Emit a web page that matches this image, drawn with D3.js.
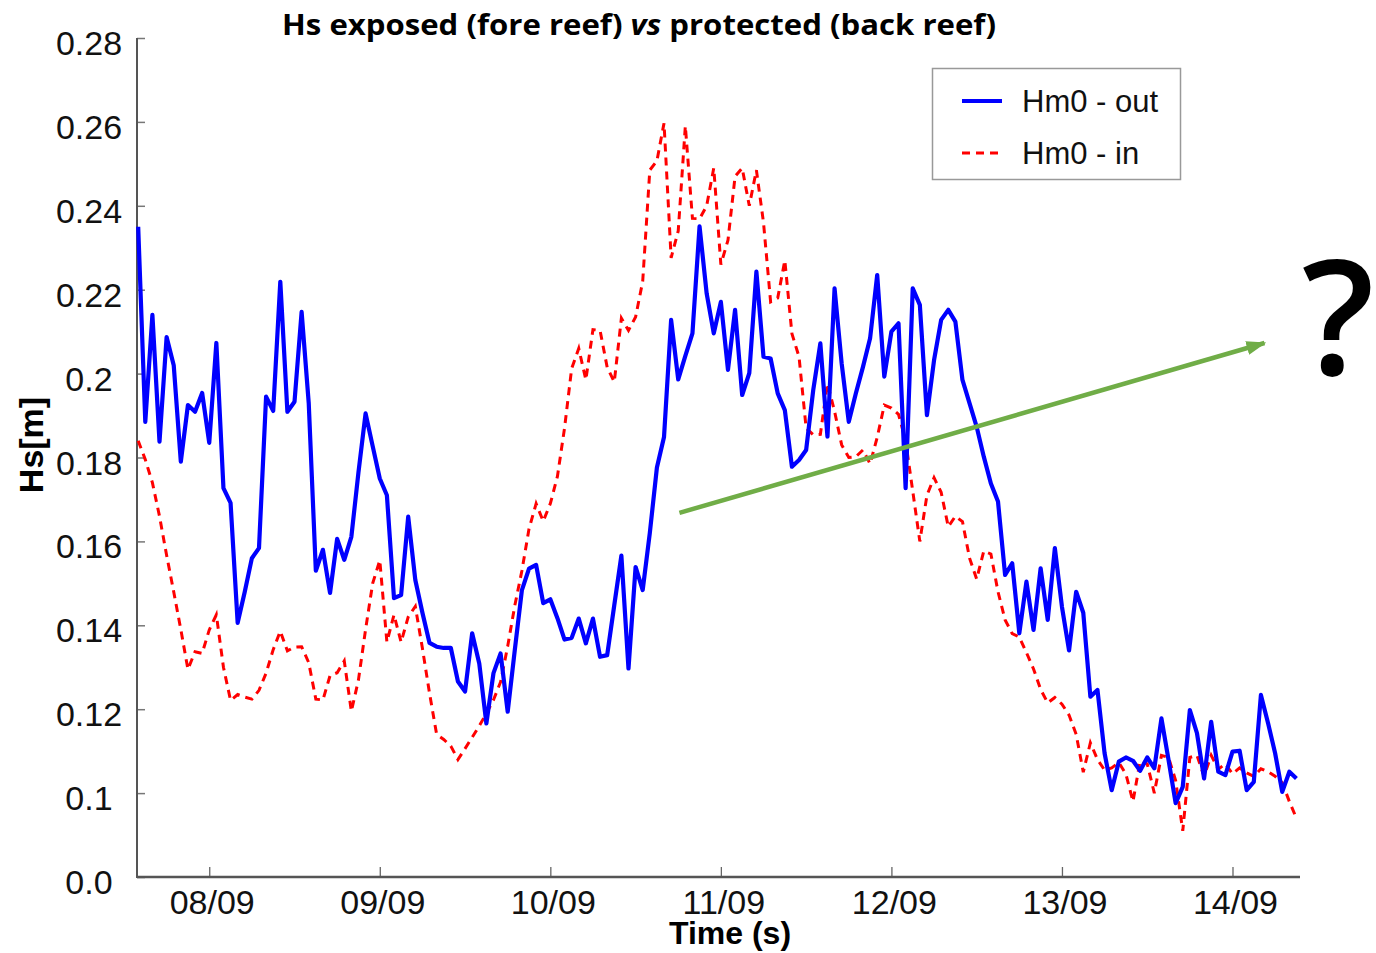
<!DOCTYPE html>
<html>
<head>
<meta charset="utf-8">
<script src="https://cdn.jsdelivr.net/npm/d3@7"></script>
<style>
  html, body { margin: 0; padding: 0; background: #fff; }
  svg { display: block; }
</style>
</head>
<body>
<svg id="chart" width="1376" height="953"></svg>
<script>
// Hourly significant wave height, starting 07/09 14:00
const startTime = Date.UTC(2014, 8, 7, 14);
const stepHours = 1;

// Hm0 outside the reef (fore reef, exposed)
const hm0Out = [
  0.235, 0.1885, 0.214, 0.1838, 0.2087, 0.202, 0.179, 0.1925, 0.1909, 0.1954,
  0.1835, 0.2073, 0.1727, 0.1692, 0.1406, 0.148, 0.156, 0.1584, 0.1945, 0.1911,
  0.2219, 0.1909, 0.1933, 0.2147, 0.193, 0.153, 0.158, 0.1477, 0.1606, 0.1556,
  0.1611, 0.1765, 0.1905, 0.1827, 0.175, 0.171, 0.1465, 0.1472, 0.1659, 0.1508,
  0.143, 0.1358, 0.1349, 0.1346, 0.1346, 0.1266, 0.1242, 0.1381, 0.1309, 0.1166,
  0.1286, 0.1333, 0.1194, 0.1341, 0.1484, 0.1535, 0.1544, 0.1453, 0.1462, 0.1417,
  0.1366, 0.137, 0.1416, 0.1357, 0.1416, 0.1325, 0.1329, 0.1448, 0.1566, 0.1297,
  0.1539, 0.1484, 0.162, 0.1776, 0.1849, 0.2128, 0.1986, 0.2042, 0.2096, 0.2351,
  0.2191, 0.2096, 0.2171, 0.2009, 0.2152, 0.1949, 0.2001, 0.2243, 0.204, 0.2036,
  0.1953, 0.1913, 0.1778, 0.1794, 0.1818, 0.1961, 0.2072, 0.185, 0.2203, 0.2024,
  0.1885, 0.1953, 0.2016, 0.2084, 0.2235, 0.1993, 0.21, 0.212, 0.1727, 0.2203,
  0.2164, 0.1901, 0.2032, 0.2128, 0.2152, 0.2124, 0.1985, 0.1929, 0.1873, 0.1802,
  0.1738, 0.1695, 0.152, 0.1548, 0.1381, 0.1504, 0.1389, 0.1536, 0.1413, 0.1584,
  0.1444, 0.134, 0.148, 0.143, 0.123, 0.1246, 0.1095, 0.1007, 0.1075, 0.1085,
  0.1077, 0.1053, 0.1085, 0.1059, 0.1178, 0.1079, 0.0976, 0.1015, 0.1198, 0.1143,
  0.1035, 0.117, 0.1051, 0.1043, 0.1099, 0.1101, 0.1007, 0.1027, 0.1234, 0.1167,
  0.1095, 0.1003, 0.1051, 0.1035
];

// Hm0 inside the reef (back reef, protected)
const hm0In = [
  0.184, 0.1795, 0.174, 0.166, 0.1567, 0.148, 0.139, 0.1295, 0.1337, 0.1333,
  0.1389, 0.1425, 0.130, 0.1221, 0.1235, 0.1229, 0.1224, 0.1245, 0.1286, 0.1342,
  0.1386, 0.1339, 0.1348, 0.1349, 0.1311, 0.1224, 0.1222, 0.128, 0.1287, 0.1315,
  0.1195, 0.127, 0.139, 0.150, 0.1555, 0.136, 0.1425, 0.136, 0.142, 0.1445,
  0.1345, 0.1238, 0.114, 0.1128, 0.1112, 0.108, 0.1106, 0.1133, 0.116, 0.119,
  0.1222, 0.1265, 0.135, 0.1447, 0.153, 0.163, 0.169, 0.1648, 0.169, 0.1755,
  0.187, 0.2012, 0.206, 0.1985, 0.2105, 0.2103, 0.2015, 0.198, 0.2132, 0.2103,
  0.2135, 0.222, 0.2485, 0.2507, 0.2597, 0.2276, 0.234, 0.259, 0.237, 0.2369,
  0.240, 0.249, 0.226, 0.2318, 0.247, 0.249, 0.240, 0.2485, 0.236, 0.2171,
  0.218, 0.227, 0.2095, 0.204, 0.187, 0.1854, 0.1855, 0.1977, 0.191, 0.183,
  0.180, 0.1802, 0.1818, 0.1785, 0.1848, 0.1925, 0.1918, 0.1903, 0.184, 0.172,
  0.160, 0.171, 0.1752, 0.1717, 0.1635, 0.166, 0.1647, 0.156, 0.151, 0.1577,
  0.157, 0.148, 0.1413, 0.138, 0.1372, 0.1335, 0.1296, 0.1247, 0.1215, 0.1228,
  0.1212, 0.1186, 0.114, 0.105, 0.112, 0.108, 0.1055, 0.106, 0.1073, 0.1045,
  0.098, 0.1077, 0.107, 0.100, 0.109, 0.1085, 0.103, 0.091, 0.1085, 0.109,
  0.104, 0.109, 0.1057, 0.107, 0.1046, 0.106, 0.1048, 0.104, 0.1058, 0.1051,
  0.104, 0.1025, 0.098, 0.094
];

// Axis ticks: the lowest gridline carries the label "0.0"
const yTickValues = [0.08, 0.10, 0.12, 0.14, 0.16, 0.18, 0.20, 0.22, 0.24, 0.26, 0.28];
const yTickLabels = ["0.0", "0.1", "0.12", "0.14", "0.16", "0.18", "0.2", "0.22", "0.24", "0.26", "0.28"];
const xTickDays = [8, 9, 10, 11, 12, 13, 14];

// Trend annotation (time, Hs)
const trendStart = [Date.UTC(2014, 8, 10, 18, 10), 0.1668];
const trendEnd = [Date.UTC(2014, 8, 14, 4, 30), 0.2073];

const seriesNames = ["Hm0 - out", "Hm0 - in"];
const titleParts = [
  { text: "Hs exposed (fore reef) ", italic: false },
  { text: "vs", italic: true },
  { text: " protected (back reef)", italic: false }
];

const svg = d3.select("#chart");
const plot = { left: 137, right: 1300, top: 38, bottom: 877 };

const x = d3.scaleUtc()
  .domain([Date.UTC(2014, 8, 7, 13, 50), Date.UTC(2014, 8, 14, 9, 30)])
  .range([plot.left, plot.right]);
const y = d3.scaleLinear()
  .domain([0.08, 0.28])
  .range([plot.bottom, plot.top]);

const timeAt = i => new Date(startTime + i * stepHours * 3600 * 1000);
const outData = hm0Out.map((v, i) => ({ t: timeAt(i), v }));
const inData = hm0In.map((v, i) => ({ t: timeAt(i), v }));

const axisFont = "'Liberation Sans', Arial, sans-serif";

// Y axis: inward ticks, centred labels
const yAxis = d3.axisRight(y)
  .tickValues(yTickValues)
  .tickSize(8)
  .tickFormat("");
const gy = svg.append("g")
  .attr("transform", `translate(${plot.left},0)`)
  .call(yAxis);
gy.select(".domain").remove();
gy.selectAll(".tick line").attr("stroke", "#777").attr("stroke-width", 1.5);

svg.append("g").selectAll("text")
  .data(yTickValues)
  .join("text")
  .attr("x", 89)
  .attr("y", d => y(d) + 5)
  .attr("text-anchor", "middle")
  .attr("dominant-baseline", "central")
  .attr("font-family", axisFont)
  .attr("font-size", 34)
  .attr("fill", "#111")
  .text((d, i) => yTickLabels[i]);

// X axis: inward ticks at midnight of each day
const xTicks = xTickDays.map(d => new Date(Date.UTC(2014, 8, d)));
const xAxis = d3.axisTop(x)
  .tickValues(xTicks)
  .tickSize(10)
  .tickFormat("");
const gx = svg.append("g")
  .attr("transform", `translate(0,${plot.bottom})`)
  .call(xAxis);
gx.select(".domain").remove();
gx.selectAll(".tick line").attr("stroke", "#666").attr("stroke-width", 1.3);

const fmt = d3.utcFormat("%d/%m");
svg.append("g").selectAll("text")
  .data(xTicks)
  .join("text")
  .attr("x", d => x(d) + 3)
  .attr("y", 914)
  .attr("text-anchor", "middle")
  .attr("font-family", axisFont)
  .attr("font-size", 34)
  .attr("fill", "#111")
  .text(d => fmt(d));

// Axis frame lines (left and bottom)
svg.append("line")
  .attr("x1", plot.left).attr("x2", plot.left)
  .attr("y1", plot.top).attr("y2", plot.bottom + 1)
  .attr("stroke", "#555").attr("stroke-width", 2);
svg.append("line")
  .attr("x1", plot.left).attr("x2", plot.right)
  .attr("y1", plot.bottom).attr("y2", plot.bottom)
  .attr("stroke", "#555").attr("stroke-width", 2.5);

// Series lines
const line = d3.line().x(d => x(d.t)).y(d => y(d.v));

svg.append("path")
  .datum(inData)
  .attr("fill", "none")
  .attr("stroke", "#ff0000")
  .attr("stroke-width", 3)
  .attr("stroke-dasharray", "8,6")
  .attr("d", line);

svg.append("path")
  .datum(outData)
  .attr("fill", "none")
  .attr("stroke", "#0000ff")
  .attr("stroke-width", 4.2)
  .attr("stroke-linejoin", "round")
  .attr("d", line);

// Trend arrow, tip placed at the end point
svg.append("defs").append("marker")
  .attr("id", "arrowHead")
  .attr("markerUnits", "userSpaceOnUse")
  .attr("viewBox", "0 0 20 14")
  .attr("refX", 18).attr("refY", 7)
  .attr("markerWidth", 20).attr("markerHeight", 14)
  .attr("orient", "auto")
  .append("path")
  .attr("d", "M0,0 L20,7 L0,14 Z")
  .attr("fill", "#70ad47");

svg.append("line")
  .attr("x1", x(trendStart[0])).attr("y1", y(trendStart[1]))
  .attr("x2", x(trendEnd[0])).attr("y2", y(trendEnd[1]))
  .attr("stroke", "#70ad47")
  .attr("stroke-width", 4.5)
  .attr("marker-end", "url(#arrowHead)");

// Question mark
svg.append("text")
  .attr("x", 1338).attr("y", 375)
  .attr("text-anchor", "middle")
  .attr("font-family", "'Open Sans', sans-serif")
  .attr("font-weight", 600)
  .attr("font-size", 160)
  .attr("fill", "#000")
  .text("?");

// Legend
const legend = svg.append("g");
legend.append("rect")
  .attr("x", 932.5).attr("y", 68.5)
  .attr("width", 248).attr("height", 111)
  .attr("fill", "#fff")
  .attr("stroke", "#999")
  .attr("stroke-width", 1.5);
legend.append("line")
  .attr("x1", 962).attr("x2", 1002).attr("y1", 101).attr("y2", 101)
  .attr("stroke", "#0000ff").attr("stroke-width", 4);
legend.append("line")
  .attr("x1", 962).attr("x2", 1002).attr("y1", 153).attr("y2", 153)
  .attr("stroke", "#ff0000").attr("stroke-width", 3)
  .attr("stroke-dasharray", "8,6");
legend.selectAll("text.lbl")
  .data(seriesNames)
  .join("text")
  .attr("class", "lbl")
  .attr("x", 1022)
  .attr("y", (d, i) => 101 + i * 52)
  .attr("dominant-baseline", "central")
  .attr("font-family", axisFont)
  .attr("font-size", 31)
  .attr("fill", "#111")
  .text(d => d);

// Title
const title = svg.append("text")
  .attr("x", 639).attr("y", 35)
  .attr("text-anchor", "middle")
  .attr("font-family", "'Open Sans', sans-serif")
  .attr("font-weight", "bold")
  .attr("font-size", 29)
  .attr("fill", "#000")
  .attr("textLength", 714)
  .attr("lengthAdjust", "spacingAndGlyphs");
title.selectAll("tspan")
  .data(titleParts)
  .join("tspan")
  .attr("font-style", d => d.italic ? "italic" : "normal")
  .text(d => d.text);

// Axis titles
svg.append("text")
  .attr("transform", "translate(43,445) rotate(-90)")
  .attr("text-anchor", "middle")
  .attr("font-family", axisFont)
  .attr("font-weight", "bold")
  .attr("font-size", 34)
  .attr("fill", "#000")
  .text("Hs[m]");

svg.append("text")
  .attr("x", 730).attr("y", 944)
  .attr("text-anchor", "middle")
  .attr("font-family", axisFont)
  .attr("font-weight", "bold")
  .attr("font-size", 32)
  .attr("fill", "#000")
  .text("Time (s)");
</script>
</body>
</html>
